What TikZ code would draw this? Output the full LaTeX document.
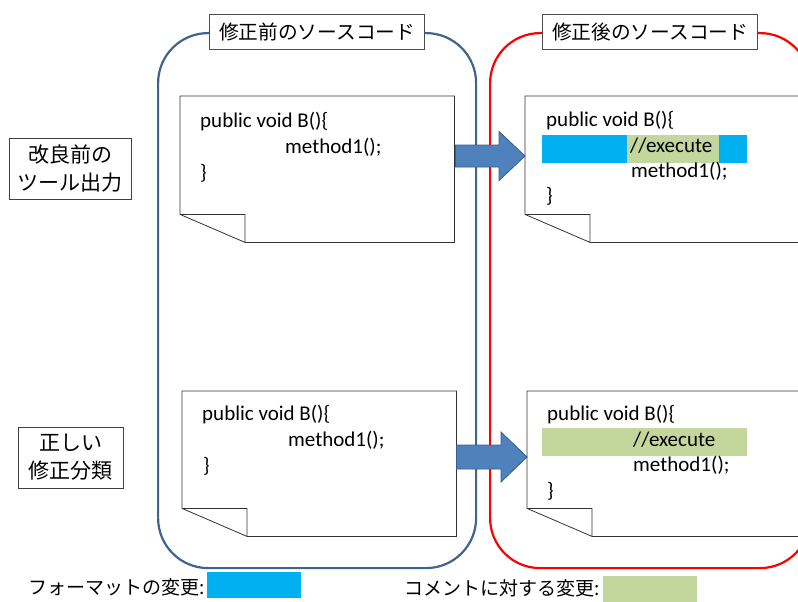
\documentclass[tikz,border=0pt]{standalone}
\usepackage{fontspec}
\setmainfont{Carlito}
\newfontfamily\jpfont{Noto Sans CJK JP}
\usetikzlibrary{calc}

\definecolor{frameblue}{HTML}{41648F}
\definecolor{fmtblue}{HTML}{00B0F0}
\definecolor{cmtgreen}{HTML}{C3D69B}
\definecolor{arrowfill}{HTML}{4F81BD}
\definecolor{arrowline}{HTML}{385D8A}
\definecolor{boxline}{HTML}{404040}

\tikzset{
    srcframe/.style={draw=#1, line width=2.2pt, rounded corners=50pt, minimum height=535pt, inner sep=0pt, anchor=north west},
    title/.style={draw=black!70, fill=white, line width=0.8pt, minimum width=215pt, minimum height=35pt, inner sep=0pt, font=\jpfont\fontsize{19.7}{24}\selectfont},
    rowlabel/.style={draw=boxline, line width=0.8pt, align=center, inner sep=0pt, font=\jpfont\fontsize{21}{28}\selectfont},
    page/.style={anchor=north west, inner sep=0pt},
    pageline/.style={draw=black!80, line width=0.8pt, fill=white},
    codetext/.style={anchor=base west, inner sep=0pt, font=\fontsize{21}{25}\selectfont},
    blockarrow/.style={fill=arrowfill, draw=arrowline, line width=0.8pt},
    keytext/.style={anchor=west, inner sep=0pt, font=\jpfont\fontsize{19}{22}\selectfont},
    keybox/.style={inner sep=0pt, minimum width=94pt, minimum height=26pt, anchor=north west}
}

\begin{document}
\begin{tikzpicture}[x=1pt,y=-1pt]
        \useasboundingbox (0,0) rectangle (798,602);
        \clip (0,0) rectangle (798,602);

        % frames
        \node[srcframe=frameblue, minimum width=318pt] (oldFrame) at (157,32) {};
        \node[srcframe=red, minimum width=320pt] (newFrame) at (489,32) {};
        \node[title] (oldTitle) at (oldFrame.north) {修正前のソースコード};
        \node[title] (newTitle) at (newFrame.north) {修正後のソースコード};

        % row labels
        \node[rowlabel, minimum width=122pt, minimum height=61pt] (toolRow) at (70,168.5) {改良前の\\ツール出力};
        \node[rowlabel, minimum width=105pt, minimum height=61pt] (trueRow) at (70.5,457.5) {正しい\\修正分類};

        % pages
        \node[page, minimum width=274pt, minimum height=146pt] (docTL) at (180,96) {};
        \node[page, minimum width=300pt, minimum height=146pt] (docTR) at (525,96) {};
        \node[page, minimum width=274pt, minimum height=145pt] (docBL) at (182,391) {};
        \node[page, minimum width=300pt, minimum height=145pt] (docBR) at (527,391) {};

        \foreach \d in {docTL,docTR,docBL,docBR}
            \draw[pageline] (\d.north west) -- (\d.north east) -- (\d.south east)
                -- ($(\d.south west)+(65,0)$) -- ($(\d.south west)+(0,-28)$) -- cycle
                ($(\d.south west)+(0,-28)$) -- ++(65,0) -- ++(0,28);

        % highlights
        \fill[fmtblue] (542,135) rectangle (747,163);
        \fill[cmtgreen] (627,135) rectangle (719,163);
        \fill[cmtgreen] (542,428) rectangle (747,456);

        % code
        \node[codetext] (tlA) at (200,127) {public void B()\{};
        \node[codetext] (tlB) at (285,153) {method1();};
        \node[codetext] (tlC) at (200,179) {\}};

        \node[codetext] (trA) at (546,126) {public void B()\{};
        \node[codetext] (trB) at (630,152) {//execute};
        \node[codetext] (trC) at (631,177) {method1();};
        \node[codetext] (trD) at (546,202) {\}};

        \node[codetext] (blA) at (202,420) {public void B()\{};
        \node[codetext] (blB) at (288,446) {method1();};
        \node[codetext] (blC) at (203,472) {\}};

        \node[codetext] (brA) at (547,420) {public void B()\{};
        \node[codetext] (brB) at (633,446) {//execute};
        \node[codetext] (brC) at (633,471) {method1();};
        \node[codetext] (brD) at (547,497) {\}};

        % arrows
        \coordinate (upS) at ($(docTL.north east)+(1,60)$);
        \coordinate (upT) at ($(docTR.north west)+(0,60)$);
        \coordinate (loS) at ($(docBL.north east)+(0,66)$);
        \coordinate (loT) at ($(docBR.north west)+(0,66)$);
        \foreach \s/\t/\h/\H in {upS/upT/11/24.5, loS/loT/12/25}
            \draw[blockarrow] ($(\s)+(0,-\h)$) -- ($(\t)+(-26,-\h)$) -- ($(\t)+(-26,-\H)$)
                -- (\t) -- ($(\t)+(-26,\H)$) -- ($(\t)+(-26,\h)$) -- ($(\s)+(0,\h)$) -- cycle;

        % legend
        \node[keytext] (fmtKeyTxt) at (28,587) {フォーマットの変更:};
        \node[keybox, fill=fmtblue] (fmtKey) at (207,572) {};
        \node[keytext] (cmtKeyTxt) at (404,588) {コメントに対する変更:};
        \node[keybox, fill=cmtgreen] (cmtKey) at (603,576) {};
\end{tikzpicture}
\end{document}
